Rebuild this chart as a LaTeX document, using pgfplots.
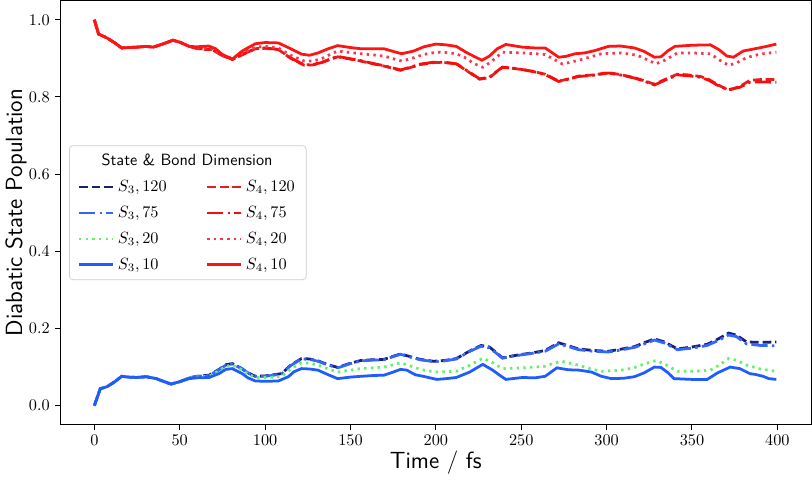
\documentclass[border=0pt]{standalone}
\usepackage{pgfplots}
\pgfplotsset{compat=1.18}
\definecolor{cNavy}{HTML}{1A1F7A}
\definecolor{cBlueA}{HTML}{3366FF}
\definecolor{cGreen}{HTML}{66F06A}
\definecolor{cBlue}{HTML}{1F5CFF}
\definecolor{cRedA}{HTML}{DD2222}
\definecolor{cRedB}{HTML}{FF0A0A}
\definecolor{cRedC}{HTML}{FF3350}
\definecolor{cRed}{HTML}{FF1414}
\pgfplotstableread{
t y
0 1.000
2.5 0.963
7.4 0.953
12 0.940
16 0.927
20 0.928
24.7 0.929
30.5 0.931
34.4 0.929
40 0.937
46 0.947
50 0.942
55.6 0.931
60 0.930
67 0.932
71 0.925
75 0.910
80.8 0.898
86.6 0.919
94.3 0.938
100 0.941
107.8 0.940
115 0.925
121.3 0.911
126 0.908
131 0.914
137 0.925
142.5 0.933
150 0.928
156 0.925
163 0.925
169.6 0.925
175 0.918
180 0.912
187 0.919
193 0.930
200 0.937
206 0.935
212 0.931
218 0.915
222 0.906
227 0.895
231.4 0.906
236 0.925
241 0.936
250.7 0.929
258 0.927
264 0.927
268 0.915
271.9 0.903
276 0.905
281.6 0.912
287 0.914
293 0.920
301 0.931
308 0.932
316.3 0.927
322 0.918
328 0.903
331.8 0.904
336 0.920
340 0.931
350 0.934
360.8 0.935
366 0.922
370.4 0.906
374.3 0.903
380 0.919
387 0.925
393.6 0.931
399.4 0.937
}\SfourTen
\pgfplotstableread{
t y
0 1.000
2.5 0.963
7.4 0.953
12 0.940
16 0.927
20 0.928
24.7 0.929
30.5 0.931
34.4 0.929
40 0.937
46 0.947
50 0.942
55.6 0.931
60 0.928
69 0.925
75 0.908
80.8 0.900
86 0.912
94.3 0.929
100 0.931
107.8 0.927
115 0.908
123 0.893
128 0.893
133 0.899
138 0.910
142.5 0.919
150 0.915
156 0.912
163 0.909
169.6 0.906
175 0.899
180 0.893
186 0.900
192.7 0.910
200.5 0.916
206 0.915
212 0.912
218 0.900
222 0.887
227.5 0.877
232 0.890
239 0.916
250.7 0.914
258 0.912
264 0.910
269 0.898
273.9 0.886
278 0.889
283.5 0.895
290 0.903
297 0.912
308.6 0.914
318 0.908
324 0.896
328.9 0.886
334 0.895
341.5 0.914
350 0.914
360.8 0.912
366 0.896
371.4 0.882
376 0.888
382 0.902
390 0.911
399.4 0.916
}\SfourTwenty
\pgfplotstableread{
t y
0 1.000
2.5 0.963
7.4 0.953
12 0.940
16 0.927
20 0.928
24.7 0.929
30.5 0.931
34.4 0.929
40 0.937
46 0.947
50 0.942
55.6 0.931
60 0.926
64 0.923
69 0.923
75 0.908
80.8 0.897
86 0.908
94.3 0.925
100 0.926
107.8 0.923
115 0.900
123 0.882
128 0.883
133 0.889
138 0.897
142.5 0.904
150 0.898
156 0.893
163 0.886
169.6 0.880
175 0.874
179.3 0.869
185 0.876
190.8 0.884
198.6 0.889
205 0.889
212 0.886
218 0.868
225.6 0.846
231.4 0.850
235 0.863
239 0.877
245 0.874
250.7 0.871
257 0.866
264 0.859
268 0.850
271.9 0.841
277 0.846
283.5 0.854
292 0.857
301 0.863
308 0.858
316.3 0.850
322 0.842
328 0.833
334 0.845
341.5 0.859
348 0.857
355 0.853
360 0.845
364.6 0.833
371.4 0.817
378 0.827
383.9 0.843
390 0.845
399.4 0.845
}\SfourOneTwenty
\pgfplotstableread{
t y
0 1.000
2.5 0.963
7.4 0.953
12 0.940
16 0.927
20 0.928
24.7 0.929
30.5 0.931
34.4 0.929
40 0.937
46 0.947
50 0.942
55.6 0.931
60 0.926
64 0.924
69 0.923
75 0.907
80.8 0.897
86 0.909
94.3 0.925
100 0.927
107.8 0.923
115 0.901
123 0.883
128 0.884
133 0.889
138 0.898
142.5 0.905
150 0.899
156 0.894
163 0.887
169.6 0.881
175 0.875
179.3 0.870
185 0.877
190.8 0.885
198.6 0.890
205 0.890
212 0.886
218 0.869
225.6 0.847
231.4 0.851
235 0.864
239 0.877
245 0.875
250.7 0.871
257 0.866
264 0.858
268 0.849
271.9 0.840
277 0.845
283.5 0.853
292 0.856
301 0.862
308 0.857
316.3 0.849
322 0.841
328 0.831
334 0.843
341.5 0.857
348 0.855
355 0.851
360 0.843
364.6 0.831
371.4 0.819
378 0.825
383.9 0.838
390 0.839
399.4 0.838
}\SfourSeventyFive
\pgfplotstableread{
t y
0 0.000
3.5 0.044
7.4 0.049
12 0.062
16 0.076
20 0.074
24.7 0.073
30.5 0.075
36.3 0.070
41 0.062
45 0.056
50 0.062
55.6 0.070
60 0.072
67.2 0.073
73 0.083
77 0.094
80.8 0.096
86.6 0.083
90 0.072
94.3 0.064
100 0.063
107.8 0.064
113.6 0.075
117 0.088
121.3 0.096
126 0.095
131 0.092
137 0.080
142.5 0.070
150 0.074
156 0.076
163 0.078
169.6 0.079
175 0.087
179.3 0.094
183 0.092
188 0.080
192.7 0.076
200.5 0.068
206 0.070
212 0.073
219.8 0.087
224 0.098
227.5 0.107
233.3 0.092
237 0.080
241 0.068
250.7 0.073
258 0.072
264 0.076
270.9 0.098
277.5 0.093
284 0.092
291.2 0.087
297 0.076
302.8 0.070
310 0.071
316.3 0.075
322 0.085
328 0.100
331.8 0.099
336 0.085
339.5 0.070
350 0.068
358.9 0.068
365 0.085
372.4 0.100
378 0.096
383.9 0.083
387 0.081
391.7 0.076
395 0.070
399.4 0.068
}\SthreeTen
\pgfplotstableread{
t y
0 0.000
3.5 0.044
7.4 0.049
12 0.062
16 0.076
20 0.074
24.7 0.073
30.5 0.075
36.3 0.070
41 0.062
45 0.056
50 0.062
55.6 0.071
60 0.074
67.2 0.076
73 0.090
77 0.102
80.8 0.105
86 0.094
90 0.082
94.3 0.073
100 0.073
109.7 0.075
115 0.095
121.3 0.111
126 0.110
131 0.105
137 0.095
142.5 0.087
150 0.092
156 0.096
163 0.098
169.6 0.100
175 0.106
179.3 0.111
185 0.103
190.8 0.094
196 0.090
200.5 0.087
206 0.088
212 0.089
220 0.105
227.5 0.123
233 0.112
239 0.096
245 0.097
250.7 0.098
258 0.100
264 0.102
269 0.110
273.9 0.115
278 0.110
283.5 0.105
290 0.096
297 0.089
308.6 0.092
316 0.098
322 0.108
328.9 0.117
334 0.108
341.5 0.089
350 0.089
360.8 0.092
366 0.105
371.4 0.122
376 0.118
382 0.105
390 0.095
399.4 0.089
}\SthreeTwenty
\pgfplotstableread{
t y
0 0.000
3.5 0.044
7.4 0.049
12 0.062
16 0.076
20 0.074
24.7 0.073
30.5 0.075
36.3 0.070
41 0.062
45 0.056
50 0.062
55.6 0.072
60 0.076
67.2 0.079
73 0.094
77 0.106
80.8 0.109
86 0.097
90 0.085
94.3 0.076
100 0.077
109.7 0.083
115 0.105
121.3 0.122
126 0.121
131 0.116
137 0.106
142.5 0.099
150 0.110
156 0.117
163 0.119
169.6 0.120
175 0.128
179.3 0.134
185 0.127
190.8 0.120
198.6 0.115
205 0.117
212 0.122
220 0.142
226.5 0.156
231.4 0.152
236 0.135
239 0.124
245 0.129
250.7 0.133
257 0.137
264 0.143
271.9 0.163
277 0.156
283.5 0.147
292 0.143
301 0.141
308 0.146
316.3 0.153
322 0.163
328 0.173
334 0.165
341.5 0.147
350 0.152
358.9 0.159
365 0.172
371.4 0.188
376 0.183
382 0.165
390 0.164
399.4 0.165
}\SthreeOneTwenty
\pgfplotstableread{
t y
0 0.000
3.5 0.044
7.4 0.049
12 0.062
16 0.076
20 0.074
24.7 0.073
30.5 0.075
36.3 0.070
41 0.062
45 0.056
50 0.062
55.6 0.072
60 0.076
67.2 0.078
73 0.093
77 0.105
80.8 0.108
86 0.097
90 0.085
94.3 0.076
100 0.076
109.7 0.082
115 0.104
121.3 0.121
126 0.120
131 0.115
137 0.105
142.5 0.098
150 0.109
156 0.116
163 0.118
169.6 0.119
175 0.127
179.3 0.133
185 0.126
190.8 0.119
198.6 0.114
205 0.116
212 0.121
220 0.141
226.5 0.154
231.4 0.150
236 0.134
239 0.123
245 0.128
250.7 0.132
257 0.136
264 0.141
271.9 0.160
277 0.154
283.5 0.145
292 0.141
301 0.139
308 0.144
316.3 0.151
322 0.160
328 0.170
334 0.162
341.5 0.145
350 0.149
358.9 0.156
365 0.168
371.4 0.183
376 0.179
382 0.160
390 0.156
399.4 0.155
}\SthreeSeventyFive
\begin{document}
\begin{tikzpicture}
\begin{axis}[
  scale only axis,
  width=462pt, height=261pt,
  xmin=-20, xmax=420,
  ymin=-0.05, ymax=1.05,
  xtick={0,50,...,400},
  ytick={0,0.2,0.4,0.6,0.8,1.0},
  yticklabel style={/pgf/number format/.cd, fixed, fixed zerofill, precision=1},
  tick align=outside,
  xtick pos=bottom, ytick pos=left,
  major tick length=2.9pt,
  tick style={black, line width=0.6pt},
  axis line style={line width=0.6pt},
  xlabel={\sffamily\Large Time / fs},
  ylabel={\sffamily\Large Diabatic State Population},
  xlabel style={yshift=4pt},
  ylabel style={yshift=-5.5pt},
  legend columns=2,
  legend cell align=left,
  legend style={at={(0.012,0.5)}, anchor=west, draw=black!20, rounded corners=2pt,
    font=\normalsize, row sep=3.6pt, inner xsep=5pt, inner ysep=3pt,
    /tikz/every even column/.append style={column sep=22pt}},
  legend image code/.code={\draw[#1, line width=1.7pt] (0cm,0cm) -- (21pt,0cm);},
  every axis plot/.append style={line width=1.7pt},
]
\addlegendimage{empty legend}
\addlegendentry{\makebox[0pt][l]{\hspace*{-10pt}\sffamily State \& Bond Dimension}}
\addlegendimage{empty legend}
\addlegendentry{}
\addplot[cNavy, dash pattern=on 5.4pt off 2.4pt] table[x=t,y=y] {\SthreeOneTwenty};
\addlegendentry{$S_3, 120$}
\addplot[cRedA, dash pattern=on 5.4pt off 2.4pt] table[x=t,y=y] {\SfourOneTwenty};
\addlegendentry{$S_4, 120$}
\addplot[cBlueA, dash pattern=on 10pt off 2.6pt on 1.6pt off 2.6pt] table[x=t,y=y] {\SthreeSeventyFive};
\addlegendentry{$S_3, 75$}
\addplot[cRedB, dash pattern=on 10pt off 2.6pt on 1.6pt off 2.6pt] table[x=t,y=y] {\SfourSeventyFive};
\addlegendentry{$S_4, 75$}
\addplot[cGreen, dash pattern=on 1.5pt off 2.6pt] table[x=t,y=y] {\SthreeTwenty};
\addlegendentry{$S_3, 20$}
\addplot[cRedC, dash pattern=on 1.5pt off 2.6pt] table[x=t,y=y] {\SfourTwenty};
\addlegendentry{$S_4, 20$}
\addplot[cBlue] table[x=t,y=y] {\SthreeTen};
\addlegendentry{$S_3, 10$}
\addplot[cRed] table[x=t,y=y] {\SfourTen};
\addlegendentry{$S_4, 10$}
\end{axis}
\end{tikzpicture}
\end{document}
